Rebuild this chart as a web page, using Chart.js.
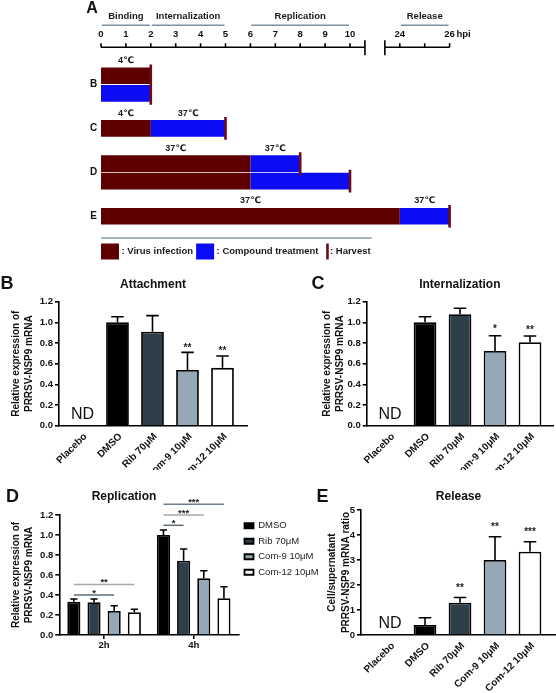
<!DOCTYPE html>
<html><head><meta charset="utf-8">
<script src="https://cdn.jsdelivr.net/npm/chart.js@4.4.0/dist/chart.umd.min.js"></script>
<style>
html,body{margin:0;padding:0;background:#fff;}
body{width:556px;height:693px;position:relative;overflow:hidden;}
canvas{position:absolute;}
</style></head><body>
<canvas id="cA" width="556" height="270" style="left:0;top:0"></canvas>
<canvas id="cB" width="280" height="200" style="left:0;top:270px"></canvas>
<canvas id="cC" width="276" height="200" style="left:280px;top:270px"></canvas>
<canvas id="cD" width="318" height="213" style="left:0;top:480px"></canvas>
<canvas id="cE" width="276" height="213" style="left:280px;top:480px"></canvas>
<script>
// ---------- Panel A: timeline ----------
const timelineRows = ['B','B','','C','','D','D','','E'];
const infectionHours = [[0,2],null,null,[0,2],null,[0,6],[0,6],null,[0,24]];
const treatmentHours = [null,[0,2],null,[2,5],null,[6,8],[6,10],null,[24,26]];
const harvestHours = [2,2,null,5,null,8,10,null,26];
const infectionTemp = ['4℃',null,null,'4℃',null,'37℃',null,null,'37℃'];
const treatmentTemp = [null,null,null,'37℃',null,'37℃',null,null,'37℃'];
const phaseNames = ['Binding','Internalization','Replication','Release'];
const phaseStart = [0,2,6,24];
const phaseEnd = [2,5,10,26];
const hpiTicks = [0,1,2,3,4,5,6,7,8,9,10,24,26];
const hpiTickMarks = [0,1,2,3,4,5,6,7,8,9,10,24,25,26];
const axisBreak = [10.6, 23.4];
const hourGap = 12;
const timelineLegend = [': Virus infection', ': Compound treatment', ': Harvest'];

// ---------- Panels B, C, E ----------
const groups = ['Placebo','DMSO','Rib 70μM','Com-9 10μM','Com-12 10μM'];
const notDetected = ['ND','','','',''];
const attachMean = [null,1.0,0.91,0.54,0.56];
const attachSD = [null,0.055,0.155,0.17,0.115];
const attachSig = ['','','','**','**'];
const internMean = [null,1.0,1.078,0.723,0.807];
const internSD = [null,0.055,0.058,0.147,0.061];
const internSig = ['','','','*','**'];
const releaseMean = [null,0.4,1.29,3.0,3.33];
const releaseSD = [null,0.29,0.21,0.93,0.4];
const releaseSig = ['','','**','**','***'];

// ---------- Panel D ----------
const timepoints = ['2h','4h'];
const replSeries = ['DMSO','Rib 70μM','Com-9 10μM','Com-12 10μM'];
const replDMSO = [0.333,1.0];
const replRib = [0.327,0.743];
const replCom9 = [0.24,0.567];
const replCom12 = [0.227,0.367];
const replDMSOsd = [0.027,0.05];
const replRibsd = [0.033,0.117];
const replCom9sd = [0.053,0.076];
const replCom12sd = [0.03,0.116];
const bracketGroup = [0,0,1,1,1];
const bracketFrom = [0,0,0,0,0];
const bracketTo = [2,3,1,2,3];
const bracketLevel = [0.40,0.505,1.097,1.20,1.307];
const bracketLabel = ['*','**','*','***','***'];

// ---------- styles ----------
const FONT = '"Liberation Sans", Arial, "DejaVu Sans", sans-serif';
Chart.defaults.font.family = FONT;
Chart.defaults.color = '#111';
const groupColors = ['#000000','#000000','#2f3f49','#96a7b5','#ffffff'];
const seriesColors = ['#000000','#2f3f49','#96a7b5','#ffffff'];
const bracketColors = ['#5d6d7c','#a8a8a8','#5d6d7c','#a8a8a8','#6d7d8c'];
const infectionColor = '#5e0000', treatmentColor = '#0c0cf4', harvestColor = '#6d0b16';

function drawText(ctx, s, x, y, size, weight, align, baseline, color) {
  ctx.font = weight + ' ' + size + 'px ' + FONT;
  ctx.fillStyle = color || '#111';
  ctx.textAlign = align; ctx.textBaseline = baseline;
  ctx.fillText(s, x, y);
}
const toMapped = h => h > hourGap ? h - hourGap : h;
const fromMapped = v => v > axisBreak[0] ? v + hourGap : v;

// ---------- timeline plugin ----------
const timelinePlugin = {
  id: 'timeline',
  afterDatasetsDraw(chart) {
    const ctx = chart.ctx, ca = chart.chartArea, xs = chart.scales.x, ys = chart.scales.y;
    const px = h => xs.getPixelForValue(toMapped(h));
    let labelY = ca.top - 33, lastX = px(26);
    const items = xs.getLabelItems ? xs.getLabelItems() : null;
    if (items && items.length) {
      const it = items[items.length - 1];
      labelY = it.options.translation[1] + (it.textOffset || 0);
      lastX = it.options.translation[0];
    }
    const axisY = labelY + 13;
    ctx.save();
    drawText(ctx, 'A', ca.left - 9, axisY - 39, 16, 'bold', 'center', 'middle');
    // phase headers
    phaseNames.forEach((n, i) => {
      const x0 = px(phaseStart[i]) + 1, x1 = px(phaseEnd[i]) - 1;
      ctx.strokeStyle = '#7d8fa1'; ctx.lineWidth = 1.5;
      ctx.beginPath(); ctx.moveTo(x0, axisY - 22); ctx.lineTo(x1, axisY - 22); ctx.stroke();
      drawText(ctx, n, (x0 + x1) / 2, axisY - 31, 9.5, 'bold', 'center', 'middle', '#1a1a1a');
    });
    // axis
    ctx.strokeStyle = '#000'; ctx.lineWidth = 1.6;
    ctx.beginPath();
    ctx.moveTo(px(0), axisY); ctx.lineTo(px(axisBreak[0]), axisY);
    ctx.moveTo(px(axisBreak[1]), axisY); ctx.lineTo(px(26), axisY);
    hpiTickMarks.forEach(h => { ctx.moveTo(px(h), axisY); ctx.lineTo(px(h), axisY - 4); });
    axisBreak.forEach(h => { ctx.moveTo(px(h), axisY - 7); ctx.lineTo(px(h), axisY + 8); });
    ctx.stroke();
    ctx.font = 'bold 9.5px ' + FONT;
    drawText(ctx, 'hpi', lastX + ctx.measureText('26').width / 2 + 1.5, labelY, 9.5, 'bold', 'left', 'middle');
    // row letters
    const seen = {};
    timelineRows.forEach((r, i) => { if (!r) return; (seen[r] = seen[r] || []).push(ys.getPixelForValue(i)); });
    Object.keys(seen).forEach(r => {
      const arr = seen[r]; const y = arr.reduce((a, b) => a + b, 0) / arr.length;
      drawText(ctx, r, ca.left - 7.5, y, 10, 'bold', 'center', 'middle');
    });
    // temperatures
    chart.data.datasets.forEach((ds, di) => {
      const meta = chart.getDatasetMeta(di);
      ds.temps.forEach((t, i) => {
        const bar = meta.data[i];
        if (!t || !bar) return;
        drawText(ctx, t, (bar.x + bar.base) / 2, bar.y - bar.height / 2 - 7, 9, 'bold', 'center', 'middle', '#1a1a1a');
      });
    });
    // harvest marks
    const half = Math.abs(ys.getPixelForValue(1) - ys.getPixelForValue(0)) * 0.95 / 2 + 3;
    ctx.strokeStyle = harvestColor; ctx.lineWidth = 2.6;
    ctx.beginPath();
    harvestHours.forEach((h, i) => {
      if (h == null) return;
      const y = ys.getPixelForValue(i);
      ctx.moveTo(px(h), y - half); ctx.lineTo(px(h), y + half);
    });
    ctx.stroke();
    // legend
    const ly = ca.bottom + 26.5;
    let lx = ca.left;
    const legendStart = lx;
    [infectionColor, treatmentColor, null].forEach((c, k) => {
      if (c) { ctx.fillStyle = c; ctx.fillRect(lx, ly - 8, 18, 16); lx += 20.5; }
      else {
        lx += 6;
        ctx.strokeStyle = harvestColor; ctx.lineWidth = 2.6;
        ctx.beginPath(); ctx.moveTo(lx, ly - 8); ctx.lineTo(lx, ly + 8); ctx.stroke();
        lx += 2.5;
      }
      drawText(ctx, timelineLegend[k], lx, ly, 9.5, 'bold', 'left', 'middle', '#1a1a1a');
      lx += ctx.measureText(timelineLegend[k]).width + 3;
    });
    ctx.strokeStyle = '#8a9aab'; ctx.lineWidth = 1.5;
    ctx.beginPath(); ctx.moveTo(legendStart, ca.bottom + 13); ctx.lineTo(lx - 2, ca.bottom + 13); ctx.stroke();
    ctx.restore();
  }
};

new Chart(document.getElementById('cA'), {
  type: 'bar',
  data: {
    labels: timelineRows,
    datasets: [
      { label: 'Virus infection', data: infectionHours.map(r => r ? r.map(toMapped) : null), backgroundColor: infectionColor, temps: infectionTemp },
      { label: 'Compound treatment', data: treatmentHours.map(r => r ? r.map(toMapped) : null), backgroundColor: treatmentColor, temps: treatmentTemp }
    ]
  },
  options: {
    indexAxis: 'y', responsive: false, animation: false,
    datasets: { bar: { grouped: false, barPercentage: 0.95, categoryPercentage: 1 } },
    layout: { padding: { left: 101, right: 106.4, top: 15, bottom: 45 } },
    plugins: { legend: { display: false }, tooltip: { enabled: false } },
    scales: {
      x: {
        type: 'linear', position: 'top', min: 0, max: 14, offset: false,
        grid: { display: false, drawTicks: false, tickLength: 0 }, border: { display: false },
        afterBuildTicks: s => { s.ticks = hpiTicks.map(h => ({ value: toMapped(h) })); },
        ticks: { autoSkip: false, maxRotation: 0, minRotation: 0, padding: 27,
          callback: v => String(fromMapped(v)), font: { size: 9.5, weight: 'bold' }, color: '#111' },
        afterFit: s => { s.height = 52; }
      },
      y: { type: 'category', display: false }
    }
  },
  plugins: [timelinePlugin]
});

// ---------- bar panels ----------
const decorPlugin = {
  id: 'panelDecor',
  afterDatasetsDraw(chart, args, o) {
    const ctx = chart.ctx, xs = chart.scales.x, ys = chart.scales.y;
    ctx.save();
    chart.data.datasets.forEach((ds, di) => {
      if (!ds.errors) return;
      const meta = chart.getDatasetMeta(di);
      ds.errors.forEach((sd, i) => {
        const raw = ds.data[i];
        const v = (raw !== null && typeof raw === 'object') ? raw.y : raw;
        const bar = meta.data[i];
        if (v == null || sd == null || !bar) return;
        const top = ys.getPixelForValue(v + sd);
        const w = bar.width * 0.55;
        ctx.strokeStyle = '#000'; ctx.lineWidth = 1.6;
        ctx.beginPath();
        ctx.moveTo(bar.x, bar.y); ctx.lineTo(bar.x, top);
        ctx.moveTo(bar.x - w / 2, top); ctx.lineTo(bar.x + w / 2, top);
        ctx.stroke();
        if (ds.stars && ds.stars[i]) drawText(ctx, ds.stars[i], bar.x, top - o.starGap + 5.5, 10, 'bold', 'center', 'alphabetic', '#222');
      });
      if (ds.nd) ds.nd.forEach((t, i) => {
        if (t) drawText(ctx, t, xs.getPixelForValue(i), ys.getPixelForValue(0) - 7, 16, 'normal', 'center', 'alphabetic');
      });
    });
    if (o.letter) drawText(ctx, o.letter, o.lx, o.ly, 18, 'bold', 'center', 'middle');
    if (o.title) drawText(ctx, o.title, o.tx, o.ty, 12, 'bold', 'center', 'middle');
    ctx.restore();
  }
};

function yAxis(max, step, fmt, titleText, titlePad, lh, width) {
  return {
    min: 0, max: max,
    ticks: { stepSize: step, callback: v => fmt(v), font: { size: 9.5, weight: 'bold' }, color: '#111', padding: 2 },
    grid: { drawOnChartArea: false, tickLength: 4, color: '#000', lineWidth: 1.6 },
    border: { color: '#000', width: 1.6 },
    title: { display: true, text: titleText, font: { size: 10, weight: 'bold', lineHeight: lh }, color: '#111', padding: { top: titlePad, bottom: 0 } },
    afterFit: s => { s.width = width; }
  };
}

function barPanel(id, p) {
  return new Chart(document.getElementById(id), {
    type: 'bar',
    data: {
      datasets: [{
        data: p.mean.map((v, i) => ({ x: i, y: v })),
        errors: p.sd, stars: p.sig, nd: notDetected,
        backgroundColor: groupColors, borderColor: '#000', borderWidth: 1.8,
        barPercentage: 0.65, categoryPercentage: 1
      }]
    },
    options: {
      responsive: false, animation: false,
      layout: { padding: { left: 0, right: p.padRight, top: 0, bottom: 0 } },
      plugins: {
        legend: { display: false }, tooltip: { enabled: false },
        title: { display: true, text: p.title, fullSize: false, font: { size: 12, weight: 'bold' }, color: '#111', padding: { top: p.titleTop, bottom: p.titleBottom } },
        panelDecor: { letter: p.letter, lx: p.lx, ly: p.ly, starGap: p.starGap }
      },
      scales: {
        x: {
          type: 'linear', min: p.xmin, max: p.xmax, offset: false,
          grid: { display: false, drawTicks: false, tickLength: 0 }, border: { color: '#000', width: 1.6 },
          afterBuildTicks: s => { s.ticks = groups.map((g, i) => ({ value: i })); },
          ticks: { autoSkip: false, minRotation: 45, maxRotation: 45, padding: 5, labelOffset: 3,
            callback: v => groups[v], font: { size: 10, weight: 'bold' }, color: '#111' },
          afterFit: s => { s.height = p.xHeight; }
        },
        y: yAxis(p.ymax, p.step, p.fmt, p.ytitle, p.ytitlePad, p.lh, p.yWidth)
      }
    },
    plugins: [decorPlugin]
  });
}

barPanel('cB', { mean: attachMean, sd: attachSD, sig: attachSig, title: 'Attachment', titleTop: 7.8, titleBottom: 9.5,
  letter: 'B', lx: 7, ly: 14, starGap: 7, xmin: -0.671, xmax: 4.7, xHeight: 44.3, padRight: 33,
  ymax: 1.2, step: 0.2, fmt: v => v.toFixed(1), ytitle: ['Relative expression of', 'PRRSV-NSP9 mRNA'], ytitlePad: 9.5, lh: 1.3, yWidth: 59 });

barPanel('cC', { mean: internMean, sd: internSD, sig: internSig, title: 'Internalization', titleTop: 7.8, titleBottom: 9.5,
  letter: 'C', lx: 38, ly: 14, starGap: 9, xmin: -0.666, xmax: 4.657, xHeight: 44.3, padRight: 3,
  ymax: 1.2, step: 0.2, fmt: v => v.toFixed(1), ytitle: ['Relative expression of', 'PRRSV-NSP9 mRNA'], ytitlePad: 40.8, lh: 1.3, yWidth: 86.7 });

barPanel('cE', { mean: releaseMean, sd: releaseSD, sig: releaseSig, title: 'Release', titleTop: 9.8, titleBottom: 5.8,
  letter: 'E', lx: 42.5, ly: 16.7, starGap: 12, xmin: -0.829, xmax: 4.743, xHeight: 58, padRight: 0,
  ymax: 5, step: 1, fmt: v => v.toFixed(0), ytitle: ['Cell/supernatant', 'PRRSV-NSP9 mRNA ratio'], ytitlePad: 45.7, lh: 1.4, yWidth: 81 });

// ---------- Panel D ----------
const bracketPlugin = {
  id: 'sigBrackets',
  afterDatasetsDraw(chart) {
    const ctx = chart.ctx, ys = chart.scales.y;
    ctx.save();
    bracketGroup.forEach((g, k) => {
      const x0 = chart.getDatasetMeta(bracketFrom[k]).data[g].x;
      const x1 = chart.getDatasetMeta(bracketTo[k]).data[g].x;
      const y = ys.getPixelForValue(bracketLevel[k]);
      ctx.strokeStyle = bracketColors[k]; ctx.lineWidth = 1.5;
      ctx.beginPath(); ctx.moveTo(x0, y); ctx.lineTo(x1, y); ctx.stroke();
      drawText(ctx, bracketLabel[k], (x0 + x1) / 2, y + 0.5, 9.5, 'bold', 'center', 'alphabetic', '#222');
    });
    ctx.restore();
  }
};
const replMeans = [replDMSO, replRib, replCom9, replCom12];
const replSDs = [replDMSOsd, replRibsd, replCom9sd, replCom12sd];
new Chart(document.getElementById('cD'), {
  type: 'bar',
  data: {
    labels: timepoints,
    datasets: replSeries.map((name, k) => ({
      label: name, data: replMeans[k], errors: replSDs[k],
      backgroundColor: seriesColors[k], borderColor: '#000', borderWidth: 1.8,
      categoryPercentage: 0.9, barPercentage: 0.65
    }))
  },
  options: {
    responsive: false, animation: false,
    layout: { padding: { left: 0, right: 0, top: 35, bottom: 38 } },
    plugins: {
      tooltip: { enabled: false },
      legend: { position: 'right', align: 'start',
        labels: { boxWidth: 9, boxHeight: 5, padding: 6, font: { size: 9.5 }, color: '#222' } },
      panelDecor: { letter: 'D', lx: 12.5, ly: 16.7, starGap: 9, title: 'Replication', tx: 124, ty: 17 }
    },
    scales: {
      x: {
        grid: { display: true, drawOnChartArea: false, offset: false, tickLength: 4, color: '#000', lineWidth: 1.6 },
        border: { color: '#000', width: 1.6 },
        ticks: { font: { size: 9.5, weight: 'bold' }, color: '#111', padding: 1 },
        afterFit: s => { s.height = 20; }
      },
      y: yAxis(1.2, 0.2, v => v.toFixed(1), ['Relative expression of', 'PRRSV-NSP9 mRNA'], 9.5, 1.3, 59.3)
    }
  },
  plugins: [decorPlugin, bracketPlugin]
});
</script>
</body></html>
